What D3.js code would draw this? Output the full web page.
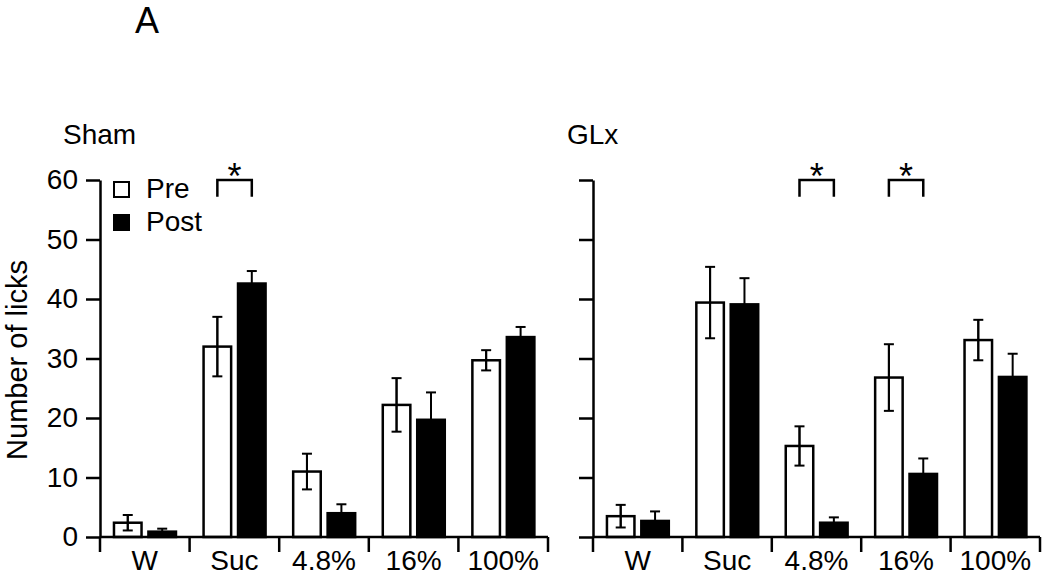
<!DOCTYPE html>
<html>
<head>
<meta charset="utf-8">
<script src="https://cdn.jsdelivr.net/npm/d3@7"></script>
<style>
  body { margin: 0; background: #fff; }
  text { font-family: "Liberation Sans", Arial, sans-serif; fill: #000; }
</style>
</head>
<body>
<svg id="chart" width="1050" height="575"></svg>
<script>
// ---- data ----
const categories = ["W", "Suc", "4.8%", "16%", "100%"];
const series = ["Pre", "Post"];
const shamPre     = [2.4, 32.0, 11.0, 22.2, 29.7];
const shamPreErr  = [1.3, 5.0, 3.0, 4.5, 1.7];
const shamPost    = [0.9, 42.6, 4.0, 19.7, 33.6];
const shamPostErr = [0.5, 2.1, 1.5, 4.6, 1.7];
const glxPre      = [3.5, 39.4, 15.3, 26.8, 33.1];
const glxPreErr   = [1.9, 6.0, 3.3, 5.6, 3.4];
const glxPost     = [2.7, 39.1, 2.4, 10.6, 26.9];
const glxPostErr  = [1.6, 4.4, 0.9, 2.6, 3.9];
const yTicks = [0, 10, 20, 30, 40, 50, 60];
const shamSig = ["Suc"];
const glxSig = ["4.8%", "16%"];
const panelTitles = ["Sham", "GLx"];
const yLabel = "Number of licks";
const figLabel = "A";

// ---- layout ----
const svg = d3.select("#chart");
const y = d3.scaleLinear().domain([0, 60]).range([537, 180]);
const FS = 28;

svg.append("text").attr("x", 135).attr("y", 33).attr("font-size", 36).text(figLabel);
svg.append("text")
  .attr("transform", "translate(27,360) rotate(-90)")
  .attr("text-anchor", "middle").attr("font-size", 29).text(yLabel);

const panels = [
  { title: panelTitles[0], x0: 100, x1: 548, titleX: 63, pre: shamPre, preErr: shamPreErr, post: shamPost, postErr: shamPostErr, sig: shamSig, labels: true, legend: true },
  { title: panelTitles[1], x0: 593, x1: 1040, titleX: 567, pre: glxPre, preErr: glxPreErr, post: glxPost, postErr: glxPostErr, sig: glxSig, labels: false, legend: false }
];

panels.forEach(p => {
  const g = svg.append("g");
  const x = d3.scaleBand().domain(categories).range([p.x0, p.x1]).padding(0);
  const bw = x.bandwidth();
  const xs = d3.scaleBand().domain(series).range([bw * 0.156, bw * 0.848]).paddingInner(0.2).paddingOuter(0);

  // title
  g.append("text").attr("x", p.titleX).attr("y", 144).attr("font-size", 28).text(p.title);

  // y axis
  const yAxis = d3.axisLeft(y).tickValues(yTicks).tickSize(14).tickSizeOuter(0)
    .tickFormat(p.labels ? d3.format("d") : () => "");
  const ya = g.append("g").attr("transform", `translate(${p.x0},0)`).call(yAxis);
  ya.select(".domain").attr("stroke", "#000").attr("stroke-width", 2.5);
  ya.selectAll(".tick line").attr("stroke", "#000").attr("stroke-width", 2.5);
  ya.selectAll(".tick text").attr("font-size", FS).attr("x", -22)
    .attr("font-family", '"Liberation Sans", Arial, sans-serif').attr("fill", "#000");

  // bars
  const data = categories.map((c, i) => [
    { c, s: "Pre", v: p.pre[i], e: p.preErr[i] },
    { c, s: "Post", v: p.post[i], e: p.postErr[i] }
  ]).flat();

  // error bars (drawn first so filled bars cover lower halves)
  const eg = g.append("g").attr("stroke", "#000").attr("stroke-width", 2);
  data.forEach(d => {
    const cx = x(d.c) + xs(d.s) + xs.bandwidth() / 2;
    eg.append("line").attr("x1", cx).attr("x2", cx).attr("y1", y(d.v + d.e)).attr("y2", y(Math.max(0, d.v - d.e)));
    eg.append("line").attr("x1", cx - 5).attr("x2", cx + 5).attr("y1", y(d.v + d.e)).attr("y2", y(d.v + d.e));
  });

  g.append("g").selectAll("rect").data(data).join("rect")
    .attr("x", d => x(d.c) + xs(d.s))
    .attr("width", xs.bandwidth())
    .attr("y", d => y(d.v))
    .attr("height", d => y(0) - y(d.v))
    .attr("fill", d => d.s === "Pre" ? "none" : "#000")
    .attr("stroke", "#000").attr("stroke-width", 2.5);

  // pre error bars inside the open bars
  const eg2 = g.append("g").attr("stroke", "#000").attr("stroke-width", 2);
  data.filter(d => d.s === "Pre").forEach(d => {
    const cx = x(d.c) + xs(d.s) + xs.bandwidth() / 2;
    eg2.append("line").attr("x1", cx).attr("x2", cx).attr("y1", y(d.v + d.e)).attr("y2", y(d.v - d.e));
    eg2.append("line").attr("x1", cx - 5).attr("x2", cx + 5).attr("y1", y(d.v - d.e)).attr("y2", y(d.v - d.e));
  });

  // x axis: baseline + boundary ticks
  g.append("line").attr("x1", p.x0).attr("x2", p.x1).attr("y1", y(0)).attr("y2", y(0))
    .attr("stroke", "#000").attr("stroke-width", 2.5);
  const bounds = categories.map(c => x(c)).concat([p.x1]);
  g.append("g").selectAll("line").data(bounds).join("line")
    .attr("x1", d => d).attr("x2", d => d).attr("y1", y(0)).attr("y2", y(0) + 15)
    .attr("stroke", "#000").attr("stroke-width", 2.5);
  g.append("g").selectAll("text").data(categories).join("text")
    .attr("x", d => x(d) + bw / 2).attr("y", 570)
    .attr("text-anchor", "middle").attr("font-size", FS).text(d => d);

  // significance brackets
  p.sig.forEach(c => {
    const xa = x(c) + xs("Pre") + xs.bandwidth() / 2;
    const xb = x(c) + xs("Post") + xs.bandwidth() / 2;
    g.append("path")
      .attr("d", `M${xa},${y(57.2)}V${y(60)}H${xb}V${y(57.2)}`)
      .attr("fill", "none").attr("stroke", "#000").attr("stroke-width", 2.5);
    g.append("text").attr("x", (xa + xb) / 2).attr("y", 189)
      .attr("text-anchor", "middle").attr("font-size", 36).text("*");
  });

  // legend
  if (p.legend) {
    const lg = g.append("g");
    series.forEach((s, i) => {
      lg.append("rect").attr("x", 114).attr("y", 182 + i * 33).attr("width", 15).attr("height", 15)
        .attr("fill", s === "Pre" ? "#fff" : "#000").attr("stroke", "#000").attr("stroke-width", 2);
      lg.append("text").attr("x", 146).attr("y", 198 + i * 33).attr("font-size", FS).text(s);
    });
  }
});
</script>
</body>
</html>
